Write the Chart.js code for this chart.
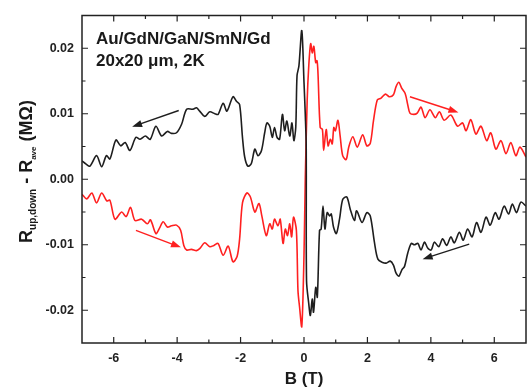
<!DOCTYPE html>
<html><head><meta charset="utf-8">
<script src="https://cdn.jsdelivr.net/npm/chart.js@4.4.1/dist/chart.umd.min.js"></script>
<style>html,body{margin:0;padding:0;background:#fff;overflow:hidden}canvas{display:block}</style>
</head><body>
<canvas id="c" width="527" height="390"></canvas>
<script>
// Black sweep (upper branch for B<0, lower branch for B>0)
const blackB = [-7.00,-6.87,-6.75,-6.54,-6.38,-6.23,-6.12,-5.93,-5.78,-5.64,-5.49,-5.30,-5.17,-5.00,-4.85,-4.67,-4.49,-4.31,-4.18,-4.02,-3.86,-3.70,-3.50,-3.39,-3.29,-3.13,-2.97,-2.81,-2.71,-2.55,-2.43,-2.24,-2.13,-2.03,-1.94,-1.87,-1.77,-1.66,-1.55,-1.45,-1.34,-1.24,-1.17,-1.08,-1.00,-0.93,-0.85,-0.77,-0.68,-0.61,-0.54,-0.45,-0.38,-0.32,-0.26,-0.22,-0.16,-0.07,0.00,0.04,0.07,0.08,0.15,0.20,0.26,0.30,0.37,0.42,0.49,0.54,0.60,0.66,0.73,0.81,0.86,0.93,1.02,1.12,1.22,1.35,1.46,1.59,1.66,1.83,1.98,2.09,2.22,2.33,2.48,2.59,2.72,2.82,2.90,2.99,3.09,3.17,3.27,3.38,3.48,3.59,3.69,3.80,3.90,4.01,4.11,4.25,4.37,4.50,4.63,4.74,4.90,5.02,5.16,5.30,5.44,5.58,5.74,5.87,6.03,6.15,6.31,6.45,6.57,6.70,6.84,7.00];
const blackR = [0.0028,0.0023,0.0020,0.0036,0.0019,0.0036,0.0031,0.0060,0.0051,0.0056,0.0044,0.0064,0.0061,0.0066,0.0061,0.0081,0.0066,0.0073,0.0070,0.0071,0.0084,0.0107,0.0107,0.0109,0.0104,0.0096,0.0103,0.0100,0.0099,0.0116,0.0104,0.0126,0.0119,0.0114,0.0064,0.0034,0.0020,0.0024,0.0046,0.0036,0.0044,0.0071,0.0086,0.0081,0.0064,0.0079,0.0064,0.0061,0.0099,0.0074,0.0089,0.0066,0.0086,0.0059,0.0079,0.0158,0.0173,0.0227,0.0148,0.0099,0.0050,-0.0155,-0.0190,-0.0208,-0.0183,-0.0203,-0.0165,-0.0180,-0.0078,-0.0076,-0.0041,-0.0076,-0.0051,-0.0056,-0.0053,-0.0073,-0.0083,-0.0061,-0.0031,-0.0027,-0.0046,-0.0063,-0.0048,-0.0066,-0.0051,-0.0056,-0.0096,-0.0122,-0.0127,-0.0128,-0.0125,-0.0131,-0.0143,-0.0148,-0.0138,-0.0133,-0.0113,-0.0098,-0.0100,-0.0098,-0.0108,-0.0096,-0.0105,-0.0108,-0.0096,-0.0103,-0.0091,-0.0101,-0.0088,-0.0097,-0.0081,-0.0093,-0.0076,-0.0088,-0.0066,-0.0081,-0.0058,-0.0070,-0.0051,-0.0061,-0.0041,-0.0053,-0.0038,-0.0051,-0.0035,-0.0041];
// Red sweep (lower branch for B<0, upper branch for B>0)
const redB = [-7.00,-6.85,-6.69,-6.54,-6.38,-6.22,-6.12,-5.96,-5.75,-5.61,-5.47,-5.33,-5.12,-4.94,-4.84,-4.67,-4.56,-4.44,-4.31,-4.18,-4.02,-3.89,-3.79,-3.70,-3.55,-3.39,-3.29,-3.13,-2.97,-2.84,-2.71,-2.55,-2.39,-2.24,-2.11,-2.03,-1.94,-1.80,-1.69,-1.55,-1.42,-1.33,-1.19,-1.08,-1.00,-0.93,-0.82,-0.75,-0.66,-0.59,-0.52,-0.45,-0.39,-0.33,-0.24,-0.19,-0.14,-0.07,0.00,0.04,0.10,0.15,0.21,0.26,0.31,0.37,0.41,0.44,0.51,0.58,0.62,0.70,0.76,0.83,0.89,0.94,0.99,1.07,1.14,1.22,1.33,1.41,1.54,1.68,1.85,1.98,2.09,2.19,2.31,2.43,2.57,2.69,2.82,2.90,2.99,3.08,3.19,3.27,3.34,3.46,3.57,3.69,3.82,3.97,4.14,4.27,4.42,4.63,4.84,5.00,5.11,5.26,5.42,5.58,5.76,5.89,6.05,6.21,6.37,6.52,6.68,6.81,7.00];
const redR = [-0.0023,-0.0030,-0.0021,-0.0036,-0.0021,-0.0033,-0.0032,-0.0061,-0.0050,-0.0057,-0.0043,-0.0063,-0.0061,-0.0068,-0.0062,-0.0083,-0.0075,-0.0065,-0.0073,-0.0071,-0.0070,-0.0078,-0.0101,-0.0108,-0.0107,-0.0109,-0.0106,-0.0097,-0.0103,-0.0101,-0.0098,-0.0116,-0.0102,-0.0126,-0.0118,-0.0091,-0.0036,-0.0021,-0.0027,-0.0050,-0.0037,-0.0056,-0.0086,-0.0068,-0.0076,-0.0061,-0.0071,-0.0061,-0.0098,-0.0076,-0.0086,-0.0068,-0.0088,-0.0058,-0.0078,-0.0170,-0.0195,-0.0225,-0.0116,0.0000,0.0120,0.0173,0.0207,0.0193,0.0203,0.0178,0.0181,0.0163,0.0079,0.0076,0.0044,0.0076,0.0051,0.0061,0.0054,0.0079,0.0074,0.0090,0.0066,0.0036,0.0030,0.0049,0.0065,0.0049,0.0068,0.0051,0.0055,0.0089,0.0121,0.0124,0.0130,0.0126,0.0129,0.0141,0.0148,0.0139,0.0131,0.0114,0.0101,0.0099,0.0101,0.0110,0.0094,0.0106,0.0094,0.0103,0.0090,0.0098,0.0081,0.0086,0.0074,0.0091,0.0069,0.0081,0.0059,0.0071,0.0046,0.0059,0.0039,0.0056,0.0036,0.0049,0.0034];

const xTicks = [-6,-4,-2,0,2,4,6];
const xMinorTicks = [-5,-3,-1,1,3,5];
const yTicks = [-0.02,-0.01,0,0.01,0.02];
const yMinorTicks = [-0.015,-0.005,0.005,0.015];
const sampleText = ['Au/GdN/GaN/SmN/Gd','20x20 \u03bcm, 2K'];
const xTitle = 'B (T)';
const yTitleParts = [['R','main'],['up,down','sub'],[' - R','main'],['ave','sub2'],[' (M\u03a9)','main']];
// sweep-direction arrows (data coordinates)
const arrowDefs = [
  {from:[-3.95,0.0105], to:[-5.42,0.0080], color:'#1e1e1e'},
  {from:[3.34,0.0126], to:[4.87,0.0102], color:'#ff2020'},
  {from:[-5.30,-0.0078], to:[-3.88,-0.0104], color:'#ff2020'},
  {from:[5.21,-0.0099], to:[3.74,-0.0122], color:'#1e1e1e'}
];

const FAM = '"Liberation Sans", Arial, Helvetica, sans-serif';
const BLACK = '#1e1e1e', RED = '#ff2020';

const decor = {
  id:'decor',
  afterDraw(chart){
    const ctx = chart.ctx, a = chart.chartArea;
    const xs = chart.scales.x, ys = chart.scales.y;
    ctx.save();
    // frame
    ctx.strokeStyle = '#222'; ctx.lineWidth = 1.5;
    ctx.strokeRect(a.left, a.top, a.right - a.left, a.bottom - a.top);
    // inward ticks
    ctx.lineWidth = 1.2;
    ctx.beginPath();
    const xt = (v,len)=>{const p = xs.getPixelForValue(v);
      ctx.moveTo(p,a.bottom); ctx.lineTo(p,a.bottom-len);
      ctx.moveTo(p,a.top); ctx.lineTo(p,a.top+len);};
    const yt = (v,len)=>{const p = ys.getPixelForValue(v);
      ctx.moveTo(a.left,p); ctx.lineTo(a.left+len,p);
      ctx.moveTo(a.right,p); ctx.lineTo(a.right-len,p);};
    xTicks.forEach(v=>xt(v,6)); xMinorTicks.forEach(v=>xt(v,3.5));
    yTicks.forEach(v=>yt(v,6)); yMinorTicks.forEach(v=>yt(v,3.5));
    ctx.stroke();
    // arrows
    arrowDefs.forEach(d=>{
      const x1 = xs.getPixelForValue(d.from[0]), y1 = ys.getPixelForValue(d.from[1]);
      const x2 = xs.getPixelForValue(d.to[0]), y2 = ys.getPixelForValue(d.to[1]);
      const ang = Math.atan2(y2-y1, x2-x1), L = 10, W = 3.6;
      ctx.strokeStyle = d.color; ctx.fillStyle = d.color; ctx.lineWidth = 1.4;
      ctx.beginPath(); ctx.moveTo(x1,y1);
      ctx.lineTo(x2 - Math.cos(ang)*L*0.8, y2 - Math.sin(ang)*L*0.8); ctx.stroke();
      ctx.beginPath(); ctx.moveTo(x2,y2);
      ctx.lineTo(x2 - Math.cos(ang)*L - Math.sin(ang)*W, y2 - Math.sin(ang)*L + Math.cos(ang)*W);
      ctx.lineTo(x2 - Math.cos(ang)*L + Math.sin(ang)*W, y2 - Math.sin(ang)*L - Math.cos(ang)*W);
      ctx.closePath(); ctx.fill();
    });
    // sample text
    ctx.fillStyle = '#1a1a1a'; ctx.textAlign = 'left'; ctx.textBaseline = 'alphabetic';
    ctx.font = 'bold 17px ' + FAM;
    ctx.fillText(sampleText[0], 96, 43.5);
    ctx.fillText(sampleText[1], 96, 66);
    // x title
    ctx.textAlign = 'center';
    ctx.font = 'bold 17px ' + FAM;
    ctx.fillText(xTitle, (a.left + a.right)/2, 383.5);
    // y title with subscripts
    ctx.translate(31.7, 171.5); ctx.rotate(-Math.PI/2);
    ctx.textAlign = 'left';
    const fonts = {main:'bold 18px '+FAM, sub:'bold 10px '+FAM, sub2:'bold 8px '+FAM};
    const dys = {main:0, sub:4, sub2:4};
    let total = 0;
    yTitleParts.forEach(p=>{ctx.font = fonts[p[1]]; total += ctx.measureText(p[0]).width;});
    let x = -total/2;
    yTitleParts.forEach(p=>{ctx.font = fonts[p[1]]; ctx.fillText(p[0], x, dys[p[1]]); x += ctx.measureText(p[0]).width;});
    ctx.restore();
  }
};

new Chart(document.getElementById('c'), {
  type:'line',
  data:{datasets:[
    {data: blackB.map((b,i)=>({x:b, y:blackR[i]})), borderColor:BLACK, borderWidth:1.6},
    {data: redB.map((b,i)=>({x:b, y:redR[i]})), borderColor:RED, borderWidth:1.6}
  ]},
  options:{
    responsive:false, animation:false, devicePixelRatio:1,
    layout:{padding:{top:9, right:1, left:0, bottom:0}},
    plugins:{legend:{display:false}, tooltip:{enabled:false}},
    elements:{point:{radius:0}, line:{tension:0.3}},
    scales:{
      x:{type:'linear', min:-7, max:7,
        grid:{display:false, drawTicks:false}, border:{display:false},
        afterBuildTicks:s=>{s.ticks = xTicks.map(v=>({value:v}));},
        afterFit:s=>{s.height = 47;},
        ticks:{padding:8, autoSkip:false, maxRotation:0, color:'#222',
          font:{family:FAM, size:12.5, weight:'bold'}, callback:v=>String(v)}},
      y:{type:'linear', min:-0.025, max:0.025,
        grid:{display:false, drawTicks:false}, border:{display:false},
        afterBuildTicks:s=>{s.ticks = yTicks.map(v=>({value:v}));},
        afterFit:s=>{s.width = 82;},
        ticks:{padding:8, color:'#222',
          font:{family:FAM, size:12.5, weight:'bold'}, callback:v=>Number(v).toFixed(2)}}
    }
  },
  plugins:[decor]
});
</script>
</body></html>
